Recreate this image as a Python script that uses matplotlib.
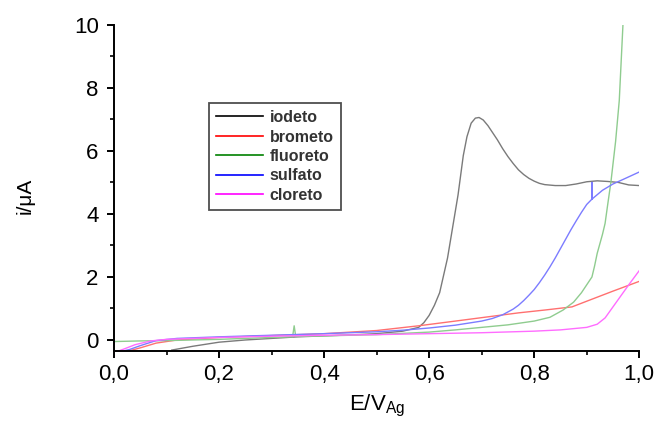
import matplotlib
matplotlib.use("Agg")
import matplotlib.pyplot as plt
from matplotlib.lines import Line2D
from matplotlib.ticker import MultipleLocator

plt.rcParams['font.family'] = ['Liberation Sans', 'DejaVu Sans']
plt.rcParams['mathtext.fontset'] = 'custom'
plt.rcParams['mathtext.rm'] = 'Liberation Sans'
plt.rcParams['mathtext.it'] = 'Liberation Sans:italic'

# Voltammograms: potential (V vs Ag) and current (µA)
iodeto_E = [0.11, 0.15, 0.20, 0.25, 0.30, 0.35, 0.40, 0.45, 0.50, 0.55, 0.58, 0.59,
            0.60, 0.61, 0.62, 0.635, 0.645, 0.655, 0.665, 0.672, 0.68, 0.688, 0.695,
            0.703, 0.712, 0.72, 0.73, 0.74, 0.75, 0.76, 0.77, 0.78, 0.79, 0.80, 0.81,
            0.82, 0.84, 0.86, 0.88, 0.90, 0.92, 0.94, 0.96, 0.98, 1.00]
iodeto_i = [-0.32, -0.20, -0.07, 0.00, 0.05, 0.10, 0.13, 0.16, 0.20, 0.28, 0.40, 0.55,
            0.78, 1.10, 1.50, 2.60, 3.60, 4.60, 5.85, 6.45, 6.88, 7.04, 7.06,
            6.98, 6.80, 6.60, 6.35, 6.07, 5.82, 5.60, 5.40, 5.25, 5.13, 5.04, 4.97,
            4.93, 4.90, 4.90, 4.95, 5.02, 5.05, 5.03, 5.00, 4.92, 4.90]

brometo_E = [0.03, 0.05, 0.08, 0.12, 0.20, 0.30, 0.40, 0.50, 0.58, 0.65, 0.71, 0.77,
             0.82, 0.872, 0.90, 0.95, 1.00]
brometo_i = [-0.34, -0.25, -0.10, 0.00, 0.08, 0.14, 0.20, 0.30, 0.45, 0.60, 0.73, 0.86,
             0.95, 1.05, 1.23, 1.55, 1.86]

fluoreto_E = [0.0, 0.0, 0.05, 0.10, 0.20, 0.30, 0.340, 0.343, 0.346, 0.40, 0.50, 0.60,
              0.65, 0.70, 0.75, 0.80, 0.83, 0.855, 0.875, 0.89, 0.90, 0.91, 0.915, 0.92,
              0.925, 0.93, 0.935, 0.94, 0.946, 0.955, 0.962, 0.969]
fluoreto_i = [-0.34, -0.05, -0.03, -0.02, 0.02, 0.08, 0.10, 0.45, 0.11, 0.13, 0.17, 0.25,
              0.32, 0.40, 0.48, 0.60, 0.72, 0.95, 1.20, 1.50, 1.75, 2.00, 2.35, 2.75,
              3.05, 3.35, 3.70, 4.30, 5.00, 6.30, 7.60, 10.0]

sulfato_E = [0.02, 0.03, 0.05, 0.08, 0.12, 0.20, 0.30, 0.40, 0.50, 0.55, 0.60, 0.65,
             0.70, 0.72, 0.74, 0.76, 0.77, 0.78, 0.79, 0.80, 0.81, 0.82, 0.83, 0.84,
             0.85, 0.86, 0.87, 0.88, 0.89, 0.90, 0.91, 0.91, 0.91, 0.93, 0.95, 0.97, 1.00]
sulfato_i = [-0.34, -0.30, -0.18, -0.02, 0.05, 0.10, 0.15, 0.20, 0.26, 0.31, 0.38, 0.47,
             0.60, 0.68, 0.80, 0.98, 1.10, 1.25, 1.42, 1.60, 1.82, 2.06, 2.32, 2.60,
             2.90, 3.20, 3.50, 3.78, 4.05, 4.30, 4.47, 5.00, 4.47, 4.75, 4.95, 5.10, 5.33]

cloreto_E = [0.01, 0.02, 0.04, 0.07, 0.10, 0.20, 0.30, 0.40, 0.50, 0.60, 0.70, 0.80,
             0.85, 0.90, 0.92, 0.935, 0.95, 0.965, 0.98, 1.00]
cloreto_i = [-0.34, -0.28, -0.15, -0.03, 0.02, 0.08, 0.12, 0.15, 0.17, 0.20, 0.23, 0.28,
             0.32, 0.40, 0.50, 0.70, 1.05, 1.40, 1.75, 2.20]

labels = ['iodeto', 'brometo', 'fluoreto', 'sulfato', 'cloreto']
legend_colors = ['black', 'red', 'green', 'blue', 'magenta']
curve_colors = ['#7a7a7a', '#ff7070', '#8fcc8f', '#7c7cff', '#ff6cff']

xticks = [0.0, 0.2, 0.4, 0.6, 0.8, 1.0]
xtick_labels = ['0,0', '0,2', '0,4', '0,6', '0,8', '1,0']
yticks = [0, 2, 4, 6, 8, 10]
ytick_labels = ['0', '2', '4', '6', '8', '10']

fig = plt.figure(figsize=(6.59, 4.21), dpi=100)
ax = fig.add_axes([0.173, 0.167, 0.797, 0.774])

series = [(iodeto_E, iodeto_i), (brometo_E, brometo_i), (fluoreto_E, fluoreto_i),
          (sulfato_E, sulfato_i), (cloreto_E, cloreto_i)]
for (E, i), c in zip(series, curve_colors):
    ax.plot(E, i, color=c, lw=1.0)

ax.set_xlim(0.0, 1.0)
ax.set_ylim(-0.34, 10.0)
ax.set_xticks(xticks)
ax.set_xticklabels(xtick_labels)
ax.set_yticks(yticks)
ax.set_yticklabels(ytick_labels)
ax.xaxis.set_minor_locator(MultipleLocator(0.1))
ax.yaxis.set_minor_locator(MultipleLocator(1))

for s in ['top', 'right']:
    ax.spines[s].set_visible(False)
for s in ['left', 'bottom']:
    ax.spines[s].set_linewidth(1.4)

ax.tick_params(which='major', direction='out', length=5, width=1.4, labelsize=16)
ax.tick_params(axis='y', which='major', pad=6)
ax.tick_params(axis='x', which='major', pad=4.5)
ax.tick_params(which='minor', direction='out', length=3, width=1.2)

ax.set_ylabel('i/\u03bcA', fontsize=15)
ax.yaxis.set_label_coords(-0.152, 0.475)
ax.set_xlabel(r'E/V$_{\mathrm{Ag}}$', fontsize=16)
ax.xaxis.set_label_coords(0.5, -0.128)
ax.xaxis.label.set_va('top')

handles = [Line2D([0], [0], color=c, lw=1.2) for c in legend_colors]
leg = ax.legend(handles, labels, loc='upper left', bbox_to_anchor=(0.181, 0.7605),
                prop={'size': 11.5, 'weight': 'bold'}, frameon=True, fancybox=False,
                handlelength=2.9, handletextpad=0.45, labelspacing=0.28,
                borderpad=0.45, borderaxespad=0.0)
leg.get_frame().set_edgecolor('#222222')
leg.get_frame().set_linewidth(1.3)
for t in leg.get_texts():
    t.set_color('#333333')

fig.savefig('out.png', dpi=100)
